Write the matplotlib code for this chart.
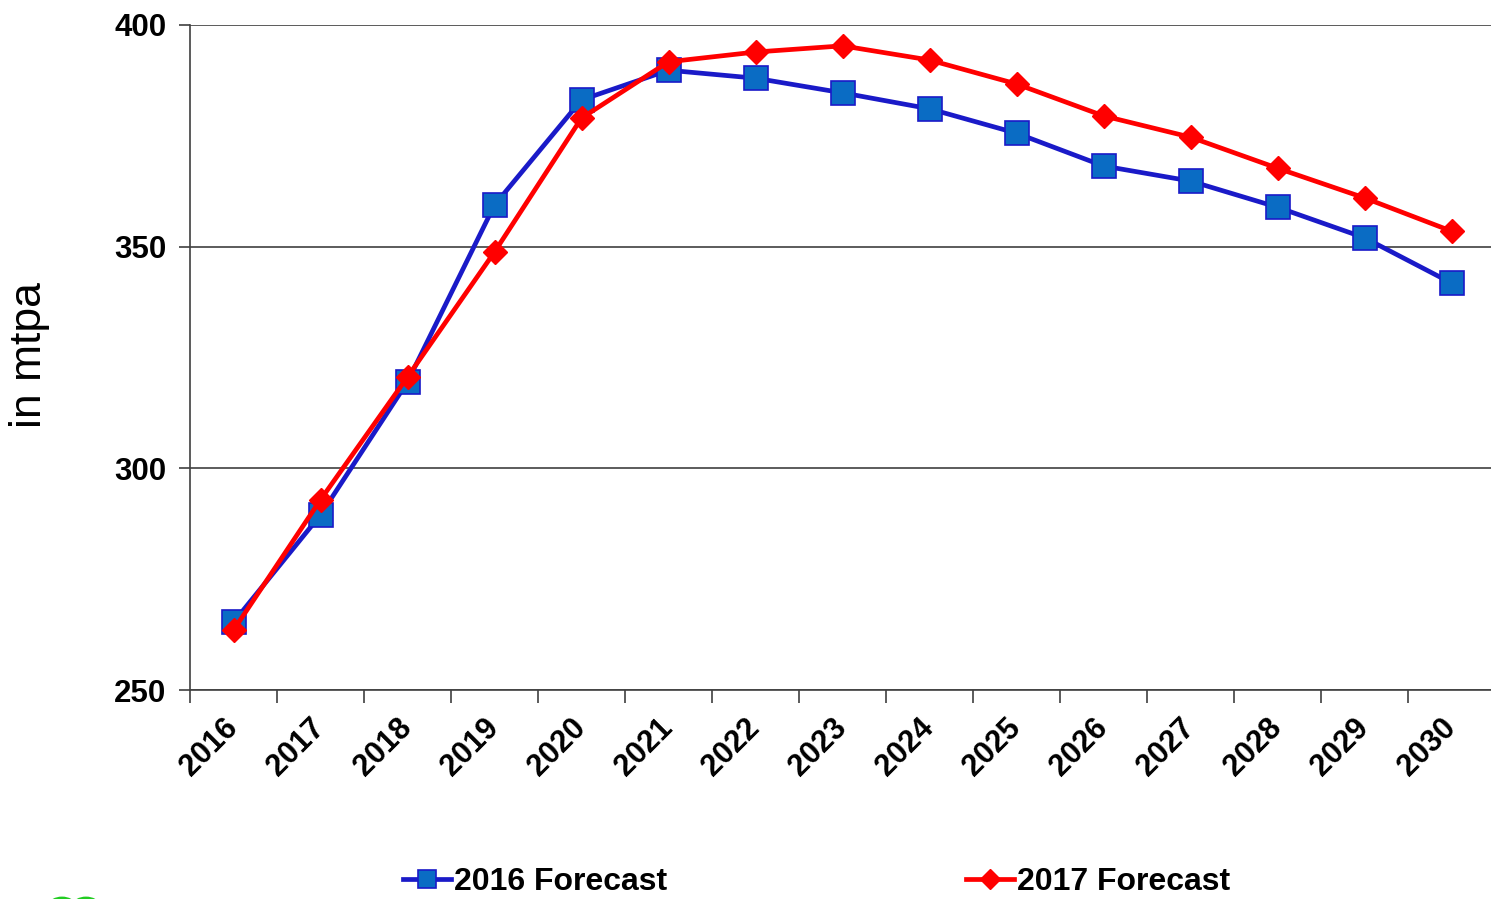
import numpy as np
import matplotlib
matplotlib.use("Agg")
import matplotlib.pyplot as plt
from matplotlib.patches import Circle

years = ["2016", "2017", "2018", "2019", "2020", "2021", "2022", "2023",
         "2024", "2025", "2026", "2027", "2028", "2029", "2030"]
forecast_2016 = [265.3, 289.5, 319.5, 359.4, 383.1, 389.8, 388.0, 384.7,
                 381.1, 375.6, 368.2, 364.8, 358.9, 352.0, 341.8]
forecast_2017 = [263.5, 292.9, 320.6, 348.8, 379.0, 391.7, 393.9, 395.3,
                 392.1, 386.7, 379.5, 374.7, 367.7, 361.0, 353.5]
yticks = [250, 300, 350, 400]

plt.rcParams['font.family'] = ['Liberation Sans', 'DejaVu Sans']

W, H = 1491, 899
fig = plt.figure(figsize=(W / 100, H / 100), dpi=100)
ax = fig.add_axes([190 / W, 1 - 690 / H, (1495 - 190) / W, (690 - 25) / H])

x = np.arange(len(years))
grid_c = '#404040'

l1, = ax.plot(x, forecast_2016, color='#1a1ac8', lw=3.4, marker='s', ms=17,
              mfc='#0a6cc4', mec='#1a1ac8', mew=1.2, label='2016 Forecast', zorder=3)
l2, = ax.plot(x, forecast_2017, color='#ff0000', lw=3.4, marker='D', ms=12.5,
              mfc='#ff0000', mec='#ff0000', label='2017 Forecast', zorder=4)

ax.set_xlim(-0.5, len(years) - 0.5)
ax.set_ylim(250, 400)
ax.set_yticks(yticks)
ax.set_yticklabels([str(v) for v in yticks], fontsize=22.5, fontweight='bold')
ax.yaxis.grid(True, color=grid_c, lw=1.2)
ax.set_axisbelow(True)

ax.set_xticks(np.arange(-0.5, len(years) - 0.5, 1))
ax.set_xticklabels([])
ax.set_xticks(x, minor=True)
ax.set_xticklabels(years, minor=True, rotation=45, ha='right', va='center',
                   rotation_mode='anchor', fontsize=22, fontweight='bold')
ax.tick_params(axis='x', which='major', direction='out', length=9, width=1.2, color=grid_c)
ax.tick_params(axis='x', which='minor', length=0, pad=24)
ax.tick_params(axis='y', direction='out', length=8, width=1.2, color=grid_c, pad=9)

for s in ['top', 'right']:
    ax.spines[s].set_visible(False)
for s in ['left', 'bottom']:
    ax.spines[s].set_color(grid_c)
    ax.spines[s].set_linewidth(1.2)

fig.text(30 / W, 1 - 355 / H, 'in mtpa', rotation=90, fontsize=32,
         ha='center', va='center')

fig.legend(handles=[l1, l2], loc='center left', bbox_to_anchor=(403 / W, 1 - 882 / H),
           ncol=2, frameon=False, handlelength=1.5, handletextpad=0.1,
           columnspacing=9.35, borderaxespad=0, borderpad=0,
           prop={'weight': 'bold', 'size': 23}, markerscale=0.8)

for cx in (62, 86):
    fig.patches.append(Circle((cx / W, 1 - 906 / H), 11 / W, transform=fig.transFigure,
                              fill=False, edgecolor='#22cc22', lw=4))

fig.savefig('out.png', dpi=100, facecolor='white')
